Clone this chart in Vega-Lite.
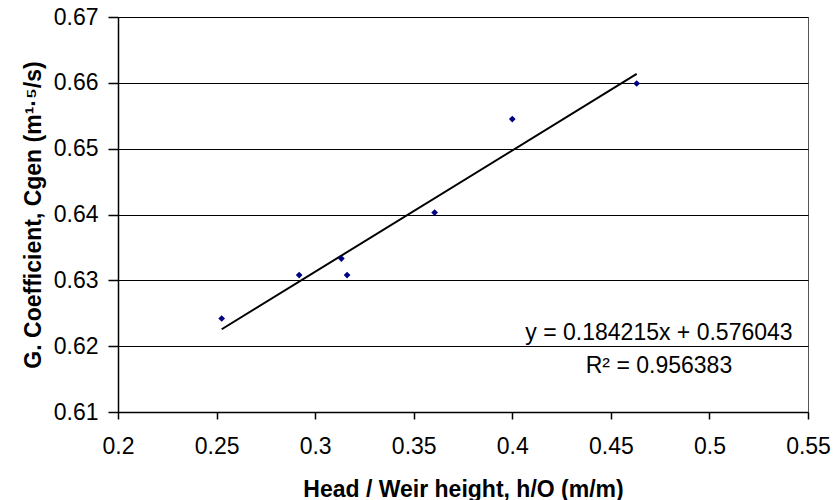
{
  "$schema": "https://vega.github.io/schema/vega-lite/v6.json",
  "width": 690,
  "height": 395,
  "autosize": {"type": "none"},
  "padding": {"left": 118, "top": 17, "right": 26, "bottom": 88},
  "background": "white",
  "config": {
    "font": "Liberation Sans",
    "view": {"stroke": "#555555", "strokeWidth": 1},
    "axis": {
      "labelFont": "Liberation Sans",
      "titleFont": "Liberation Sans",
      "labelFontSize": 23,
      "titleFontSize": 23,
      "labelColor": "#000000",
      "titleColor": "#000000",
      "titleFontWeight": "bold",
      "domainColor": "#000000",
      "domainWidth": 1.5,
      "tickColor": "#000000",
      "tickWidth": 1.5,
      "labelFlush": false,
      "labelOverlap": false
    }
  },
  "datasets": {
    "points": [
      {"h": 0.2526, "c": 0.6242},
      {"h": 0.2919, "c": 0.6308},
      {"h": 0.3133, "c": 0.6333},
      {"h": 0.3162, "c": 0.6308},
      {"h": 0.3606, "c": 0.6403},
      {"h": 0.4000, "c": 0.6545},
      {"h": 0.4631, "c": 0.6599}
    ],
    "trend": [
      {"h": 0.2526, "c": 0.62257},
      {"h": 0.4631, "c": 0.66135}
    ],
    "labels": [
      {"h": 0.4744, "c": 0.62094, "t": "y = 0.184215x + 0.576043"},
      {"h": 0.4744, "c": 0.61597, "t": "R² = 0.956383"}
    ]
  },
  "layer": [
    {
      "data": {"name": "trend"},
      "mark": {"type": "line", "color": "#000000", "strokeWidth": 2},
      "encoding": {
        "x": {
          "field": "h",
          "type": "quantitative",
          "scale": {"domain": [0.2, 0.55], "nice": false, "zero": false},
          "axis": {
            "title": "Head / Weir height, h/O (m/m)",
            "values": [0.2, 0.25, 0.3, 0.35, 0.4, 0.45, 0.5, 0.55],
            "format": "~g",
            "grid": false,
            "tickSize": 7,
            "labelPadding": 16,
            "titlePadding": 20
          }
        },
        "y": {
          "field": "c",
          "type": "quantitative",
          "scale": {"domain": [0.61, 0.67], "nice": false, "zero": false},
          "axis": {
            "title": "G. Coefficient, Cgen (m¹·⁵/s)",
            "values": [0.61, 0.62, 0.63, 0.64, 0.65, 0.66, 0.67],
            "format": ".2f",
            "grid": true,
            "gridColor": "#000000",
            "gridWidth": 1,
            "gridOpacity": 1,
            "tickSize": 10,
            "labelPadding": 10,
            "titlePadding": 8
          }
        }
      }
    },
    {
      "data": {"name": "points"},
      "mark": {"type": "point", "shape": "diamond", "filled": true, "color": "#000080", "size": 45, "opacity": 1},
      "encoding": {
        "x": {"field": "h", "type": "quantitative"},
        "y": {"field": "c", "type": "quantitative"}
      }
    },
    {
      "data": {"name": "labels"},
      "mark": {"type": "text", "fontSize": 23, "font": "Liberation Sans", "color": "#000000", "align": "center", "baseline": "alphabetic"},
      "encoding": {
        "x": {"field": "h", "type": "quantitative"},
        "y": {"field": "c", "type": "quantitative"},
        "text": {"field": "t"}
      }
    }
  ]
}
